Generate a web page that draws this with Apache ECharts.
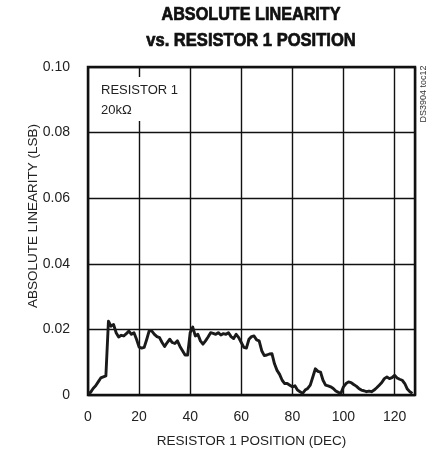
<!DOCTYPE html>
<html>
<head>
<meta charset="utf-8">
<script src="https://cdn.jsdelivr.net/npm/echarts@6/dist/echarts.min.js"></script>
<style>
html,body{margin:0;padding:0;background:#fff;}
#chart{width:438px;height:459px;}
</style>
</head>
<body>
<div id="chart"></div>
<script>
var titleLines = ['ABSOLUTE LINEARITY', 'vs. RESISTOR 1 POSITION'];
var xAxisName = 'RESISTOR 1 POSITION (DEC)';
var yAxisName = 'ABSOLUTE LINEARITY (LSB)';
var noteLines = ['RESISTOR 1', '20kΩ'];
var docId = 'DS3904 toc12';
var xTicks = [0, 20, 40, 60, 80, 100, 120];
var yTicks = [0, 0.02, 0.04, 0.06, 0.08, 0.10];

// absolute linearity (LSB) for resistor positions 0..127
var linearity = [
  0.0005, 0.0008, 0.0020, 0.0028, 0.0040, 0.0052, 0.0055, 0.0058, 0.0225, 0.0210,
  0.0215, 0.0190, 0.0177, 0.0182, 0.0180, 0.0187, 0.0195, 0.0185, 0.0190, 0.0170,
  0.0146, 0.0143, 0.0145, 0.0170, 0.0197, 0.0195, 0.0185, 0.0178, 0.0175, 0.0160,
  0.0148, 0.0160, 0.0170, 0.0160, 0.0157, 0.0165, 0.0148, 0.0135, 0.0122, 0.0122,
  0.0190, 0.0207, 0.0180, 0.0185, 0.0165, 0.0155, 0.0165, 0.0177, 0.0190, 0.0188,
  0.0185, 0.0190, 0.0183, 0.0187, 0.0185, 0.0190, 0.0178, 0.0172, 0.0185, 0.0175,
  0.0160, 0.0145, 0.0143, 0.0170, 0.0178, 0.0180, 0.0168, 0.0165, 0.0135, 0.0120,
  0.0122, 0.0125, 0.0126, 0.0095, 0.0075, 0.0063, 0.0045, 0.0035, 0.0035, 0.0030,
  0.0025, 0.0028, 0.0015, 0.0010, 0.0005, 0.0015, 0.0020, 0.0030, 0.0055, 0.0080,
  0.0072, 0.0070, 0.0045, 0.0030, 0.0028, 0.0025, 0.0020, 0.0012, 0.0008, 0.0005,
  0.0025, 0.0035, 0.0040, 0.0038, 0.0032, 0.0027, 0.0020, 0.0015, 0.0013, 0.0010,
  0.0012, 0.0010, 0.0015, 0.0022, 0.0030, 0.0038, 0.0050, 0.0055, 0.0050, 0.0053,
  0.0060, 0.0052, 0.0048, 0.0045, 0.0035, 0.0018, 0.0010, 0.0005
];

var FONT = "'Liberation Sans', Arial, sans-serif";
var seriesData = linearity.map(function (v, i) { return [i, v]; });

var chart = echarts.init(document.getElementById('chart'), null, {renderer: 'canvas'});
chart.setOption({
  backgroundColor: '#ffffff',
  animation: false,
  grid: {left: 88, right: 23, top: 67, bottom: 64, show: true, borderColor: '#111', borderWidth: 2.5, backgroundColor: 'transparent'},
  xAxis: {
    type: 'value', min: xTicks[0], max: 128, interval: xTicks[1] - xTicks[0],
    axisLine: {show: false}, axisTick: {show: false},
    splitLine: {show: true, lineStyle: {color: '#111', width: 1.4}},
    axisLabel: {showMaxLabel: false, fontFamily: FONT, fontSize: 14, color: '#222', margin: 15},
    name: xAxisName, nameLocation: 'middle', nameGap: 39,
    nameTextStyle: {fontFamily: FONT, fontSize: 13.5, color: '#222'}
  },
  yAxis: {
    type: 'value', min: yTicks[0], max: yTicks[yTicks.length - 1], interval: yTicks[1] - yTicks[0],
    axisLine: {show: false}, axisTick: {show: false},
    splitLine: {show: true, lineStyle: {color: '#111', width: 1.4}},
    axisLabel: {fontFamily: FONT, fontSize: 14, color: '#222', margin: 18,
      formatter: function (v) { return v === 0 ? '0' : v.toFixed(2); }}
  },
  graphic: [
    {type: 'text', x: 251, y: 15, scaleX: 0.9, scaleY: 1.05, z: 11,
      style: {text: titleLines[0], fontFamily: FONT, fontWeight: 'bold', fontSize: 18, fill: '#111', stroke: '#111', lineWidth: 0.7, align: 'center', verticalAlign: 'middle'}},
    {type: 'text', x: 251, y: 41, scaleX: 0.92, scaleY: 1.05, z: 11,
      style: {text: titleLines[1], fontFamily: FONT, fontWeight: 'bold', fontSize: 18, fill: '#111', stroke: '#111', lineWidth: 0.7, align: 'center', verticalAlign: 'middle'}},
    {type: 'rect', left: 90, top: 77, shape: {width: 90, height: 44}, style: {fill: '#fff'}, z: 10},
    {type: 'text', left: 101, top: 80, z: 11,
      style: {text: noteLines.join('\n'), fontFamily: FONT, fontSize: 13, lineHeight: 20, fill: '#222'}},
    {type: 'text', x: 33, y: 216, rotation: Math.PI / 2, z: 11,
      style: {text: yAxisName, fontFamily: FONT, fontSize: 13.5, fill: '#222', align: 'center', verticalAlign: 'middle'}},
    {type: 'text', x: 424, y: 94, rotation: Math.PI / 2, z: 11,
      style: {text: docId, fontFamily: FONT, fontSize: 9, fill: '#333', align: 'center', verticalAlign: 'middle'}}
  ],
  series: [{
    type: 'line', data: seriesData, showSymbol: false, z: 5,
    lineStyle: {color: '#1a1a1a', width: 2.9, join: 'round'}
  }]
});
</script>
</body>
</html>
